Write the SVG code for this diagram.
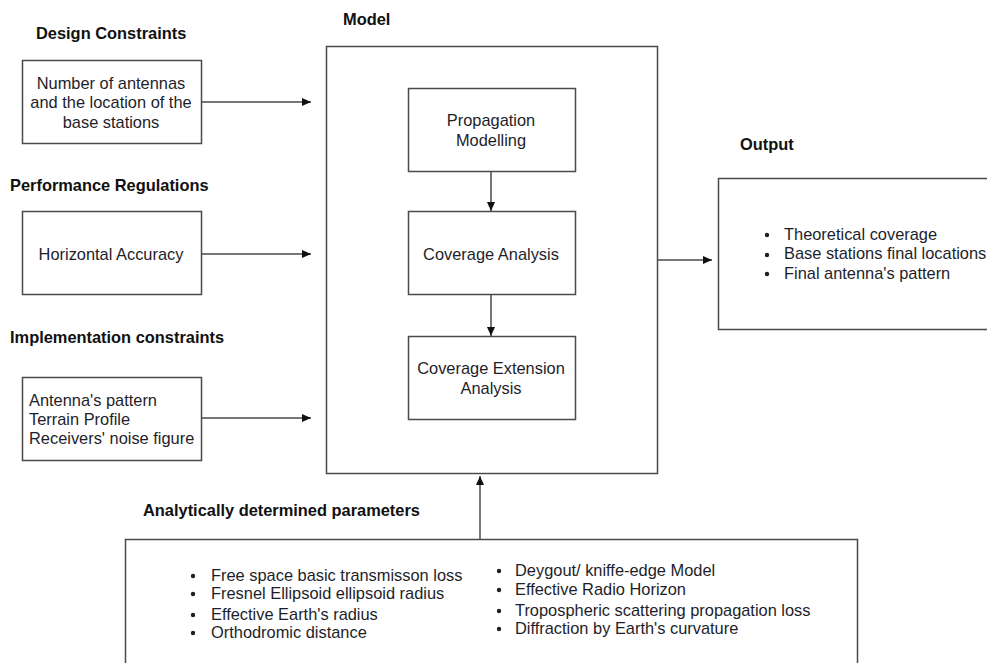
<svg xmlns="http://www.w3.org/2000/svg" width="987" height="663" viewBox="0 0 987 663">
  <style>
    .box { fill: #ffffff; stroke: #4a4a4a; stroke-width: 1.5; }
    .t { font-family: "Liberation Sans", Arial, sans-serif; font-size: 16.4px; fill: #1e1e2a; }
    .h { font-family: "Liberation Sans", Arial, sans-serif; font-size: 16.4px; font-weight: bold; fill: #111111; }
    .c { text-anchor: middle; }
    .edge { fill: none; stroke: #4a4a4a; stroke-width: 1.5; marker-end: url(#arrow); }
    .dot { fill: #1e1e2a; }
  </style>
  <defs>
    <marker id="arrow" markerUnits="userSpaceOnUse" markerWidth="10" markerHeight="10" viewBox="0 0 10 10" refX="9" refY="5" orient="auto">
      <path d="M0,1 L9,5 L0,9 Z" fill="#111111"/>
    </marker>
  </defs>
  <rect width="987" height="663" fill="#ffffff"/>

  <!-- section headings -->
  <g id="headings">
    <text class="h" x="36" y="39">Design Constraints</text>
    <text class="h" x="10" y="191">Performance Regulations</text>
    <text class="h" x="10" y="343">Implementation constraints</text>
    <text class="h" x="343" y="25">Model</text>
    <text class="h" x="740" y="150">Output</text>
    <text class="h" x="143" y="516">Analytically determined parameters</text>
  </g>

  <!-- model container -->
  <g id="model">
    <rect class="box" x="326.5" y="46.5" width="331" height="427"/>
  </g>

  <g id="design">
    <rect class="box" x="22.5" y="60.5" width="179" height="83"/>
    <text class="t c" x="111" y="89">Number of antennas</text>
    <text class="t c" x="111" y="108">and the location of the</text>
    <text class="t c" x="111" y="128">base stations</text>
  </g>

  <g id="performance">
    <rect class="box" x="22.5" y="211.5" width="179" height="83"/>
    <text class="t c" x="111" y="260">Horizontal Accuracy</text>
  </g>

  <g id="implementation">
    <rect class="box" x="22.5" y="377.5" width="179" height="83"/>
    <text class="t" x="29" y="406">Antenna's pattern</text>
    <text class="t" x="29" y="425">Terrain Profile</text>
    <text class="t" x="29" y="444">Receivers' noise figure</text>
  </g>

  <g id="propagation">
    <rect class="box" x="408.5" y="88.5" width="167" height="83"/>
    <text class="t c" x="491" y="126">Propagation</text>
    <text class="t c" x="491" y="146">Modelling</text>
  </g>

  <g id="coverage">
    <rect class="box" x="408.5" y="211.5" width="167" height="83"/>
    <text class="t c" x="491" y="260">Coverage Analysis</text>
  </g>

  <g id="extension">
    <rect class="box" x="408.5" y="336.5" width="167" height="83"/>
    <text class="t c" x="491" y="374">Coverage Extension</text>
    <text class="t c" x="491" y="394">Analysis</text>
  </g>

  <g id="output">
    <path class="box" d="M990,178.5 H718.5 V329.5 H990"/>
    <circle class="dot" cx="767" cy="235" r="2.2"/>
    <circle class="dot" cx="767" cy="255" r="2.2"/>
    <circle class="dot" cx="767" cy="274" r="2.2"/>
    <text class="t" x="784" y="240">Theoretical coverage</text>
    <text class="t" x="784" y="259">Base stations final locations</text>
    <text class="t" x="784" y="279">Final antenna's pattern</text>
  </g>

  <g id="parameters">
    <path class="box" d="M125.5,670 V539.5 H857.5 V670"/>
    <circle class="dot" cx="193" cy="576" r="2.2"/>
    <circle class="dot" cx="193" cy="594" r="2.2"/>
    <circle class="dot" cx="193" cy="615" r="2.2"/>
    <circle class="dot" cx="193" cy="633" r="2.2"/>
    <text class="t" x="211" y="581">Free space basic transmisson loss</text>
    <text class="t" x="211" y="599">Fresnel Ellipsoid ellipsoid radius</text>
    <text class="t" x="211" y="620">Effective Earth's radius</text>
    <text class="t" x="211" y="638">Orthodromic distance</text>
    <circle class="dot" cx="499" cy="571" r="2.2"/>
    <circle class="dot" cx="499" cy="590" r="2.2"/>
    <circle class="dot" cx="499" cy="611" r="2.2"/>
    <circle class="dot" cx="499" cy="629" r="2.2"/>
    <text class="t" x="515" y="576">Deygout/ kniffe-edge Model</text>
    <text class="t" x="515" y="595">Effective Radio Horizon</text>
    <text class="t" x="515" y="616">Tropospheric scattering propagation loss</text>
    <text class="t" x="515" y="634">Diffraction by Earth's curvature</text>
  </g>

  <!-- connectors -->
  <g id="connectors">
    <line class="edge" x1="202" y1="102" x2="311" y2="102"/>
    <line class="edge" x1="202" y1="254" x2="311" y2="254"/>
    <line class="edge" x1="202" y1="418" x2="311" y2="418"/>
    <line class="edge" x1="491" y1="172" x2="491" y2="211"/>
    <line class="edge" x1="491" y1="295" x2="491" y2="336"/>
    <line class="edge" x1="658" y1="260" x2="712" y2="260"/>
    <line class="edge" x1="480" y1="539" x2="480" y2="476"/>
  </g>
</svg>
